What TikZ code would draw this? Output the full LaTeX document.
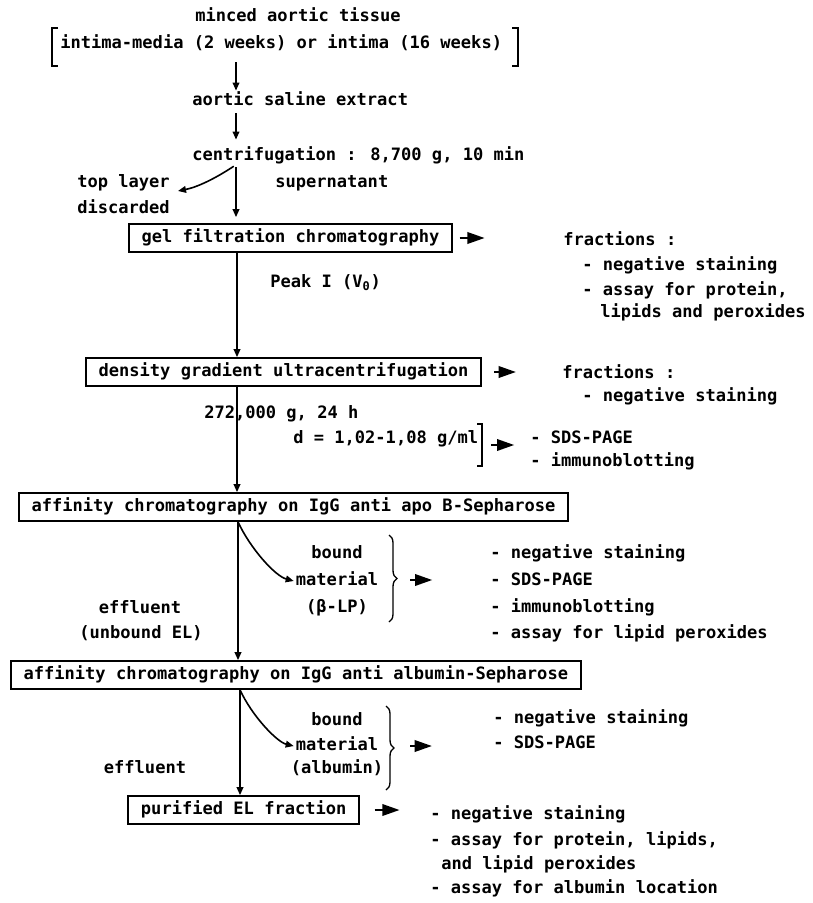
\documentclass[tikz,border=0pt]{standalone}
\usepackage{fontspec}
\setmainfont{DejaVu Sans Mono}
\usetikzlibrary{arrows.meta, decorations.pathreplacing}

\begin{document}
\begin{tikzpicture}[x=0.75pt, y=-0.75pt, font=\bfseries\fontsize{12.8}{16}\selectfont,
  txt/.style={anchor=base west, inner sep=0pt, text height=9pt, text depth=3pt},
  ctxt/.style={txt, anchor=base},
  box/.style={draw, line width=1.3pt, inner xsep=9.5pt, inner ysep=0pt, minimum height=21pt, text height=9pt, text depth=3pt},
  arr/.style={line width=1.2pt, -{Triangle[length=6pt,width=5pt]}},
  wedge/.style={line width=1.9pt, -{Triangle[length=13pt,width=8.5pt]}},
  brc/.style={line width=1pt, decorate, decoration={brace, amplitude=6pt}},
  sqb/.style={line width=1.1pt}]
\useasboundingbox (0,0) rectangle (813,903);

\coordinate (cA) at (236,0);
\coordinate (cB) at (237,0);
\coordinate (cC) at (238,0);
\coordinate (cD) at (240,0);

\node[txt] (minced) at (195,21.5) {minced aortic tissue};
\node[txt] (layer) at (60,48.5) {intima-media (2 weeks) or intima (16 weeks)};
\draw[sqb] (58,28) -- (52,28) -- (52,66) -- (58,66);
\draw[sqb] (512,28) -- (518,28) -- (518,66) -- (512,66);
\node[txt] (extract) at (192,105.5) {aortic saline extract};
\node[txt] (centri) at (192,160.5) {centrifugation : 8,700 g, 10 min};
\node[txt] (top1) at (77,187.5) {top layer};
\node[txt] (top2) at (77,213.5) {discarded};
\node[txt] (super) at (275,187.5) {supernatant};
\coordinate (disc) at (178,191);

\node[box, anchor=west] (gel) at (128,238) {gel filtration chromatography};
\node[txt] (frac1) at (563,245.5) {fractions :};
\node[txt] (fa1) at (582,270.5) {- negative staining};
\node[txt] (fa2) at (582,295.5) {- assay for protein,};
\node[txt] (fa3) at (600,317.5) {lipids and peroxides};
\node[txt] (peak) at (270,287.5) {Peak I (V\textsubscript{0})};

\node[box, anchor=east] (dens) at (482,372) {density gradient ultracentrifugation};
\node[txt] (frac2) at (562,378.5) {fractions :};
\node[txt] (fb1) at (582,401.5) {- negative staining};
\node[txt] (speed) at (204,418.5) {272,000 g, 24 h};
\node[txt] (dval) at (293,443.5) {d = 1,02-1,08 g/ml};
\draw[sqb] (477,424) -- (482,424) -- (482,466) -- (477,466);
\coordinate (dbr) at (482,445);
\node[txt] (fc1) at (530,443.5) {- SDS-PAGE};
\node[txt] (fc2) at (530,466.5) {- immunoblotting};

\node[box, anchor=west] (aff1) at (18,507) {affinity chromatography on IgG anti apo B-Sepharose};
\node[ctxt] (bnd1) at (337,558.5) {bound};
\node[ctxt] (mat1) at (337,585.5) {material};
\node[ctxt] (blp) at (337,612.5) {(β-LP)};
\draw[brc] (389,535) -- (389,622);
\coordinate (br1) at (397,580);
\node[txt] (fd1) at (490,558.5) {- negative staining};
\node[txt] (fd2) at (490,585.5) {- SDS-PAGE};
\node[txt] (fd3) at (490,612.5) {- immunoblotting};
\node[txt] (fd4) at (490,638.5) {- assay for lipid peroxides};
\node[ctxt] (eff1) at (140,613.5) {effluent};
\node[ctxt] (unb) at (141,638.5) {(unbound EL)};

\node[box, anchor=west] (aff2) at (10,675) {affinity chromatography on IgG anti albumin-Sepharose};
\node[ctxt] (bnd2) at (337,725.5) {bound};
\node[ctxt] (mat2) at (337,750.5) {material};
\node[ctxt] (alb) at (337,773.5) {(albumin)};
\draw[brc] (386,706) -- (386,790);
\coordinate (br2) at (394,746);
\node[txt] (fe1) at (493,723.5) {- negative staining};
\node[txt] (fe2) at (493,748.5) {- SDS-PAGE};
\node[ctxt] (eff2) at (145,773.5) {effluent};

\node[box, anchor=east] (pur) at (360,810) {purified EL fraction};
\node[txt] (ff1) at (430,819.5) {- negative staining};
\node[txt] (ff2) at (430,845.5) {- assay for protein, lipids,};
\node[txt] (ff3) at (441,869.5) {and lipid peroxides};
\node[txt] (ff4) at (430,893.5) {- assay for albumin location};

\draw[arr, shorten <=7pt, shorten >=2pt] (layer.south -| cA) -- (extract.north -| cA);
\draw[arr, shorten <=2.5pt, shorten >=6.5pt] (extract.south -| cA) -- (centri.north -| cA);
\draw[arr, shorten <=2pt, shorten >=4.5pt] (centri.south -| cA) -- (gel.north -| cA);
\draw[arr, shorten <=2pt] (centri.south -| cA) .. controls (216,178) and (198,187) .. (disc);
\draw[wedge] ([xshift=5pt]gel.east) -- ++(25,0);
\draw[arr] (gel.south -| cB) -- (dens.north -| cB);
\draw[wedge] ([xshift=9pt]dens.east) -- ++(22,0);
\draw[arr] (dens.south -| cB) -- (aff1.north -| cB);
\draw[wedge] ([xshift=7pt]dbr) -- ++(23,0);
\draw[arr] (aff1.south -| cC) -- (aff2.north -| cC);
\draw[arr, shorten >=1.5pt] (aff1.south -| cC) .. controls (250,548) and (275,576) .. (mat1.west);
\draw[wedge] ([xshift=10pt]br1) -- ++(22,0);
\draw[arr] (aff2.south -| cD) -- (pur.north -| cD);
\draw[arr, shorten >=1.5pt] (aff2.south -| cD) .. controls (252,716) and (277,742) .. (mat2.west);
\draw[wedge] ([xshift=12pt]br2) -- ++(22,0);
\draw[wedge] ([xshift=11pt]pur.east) -- ++(25,0);
\end{tikzpicture}
\end{document}
